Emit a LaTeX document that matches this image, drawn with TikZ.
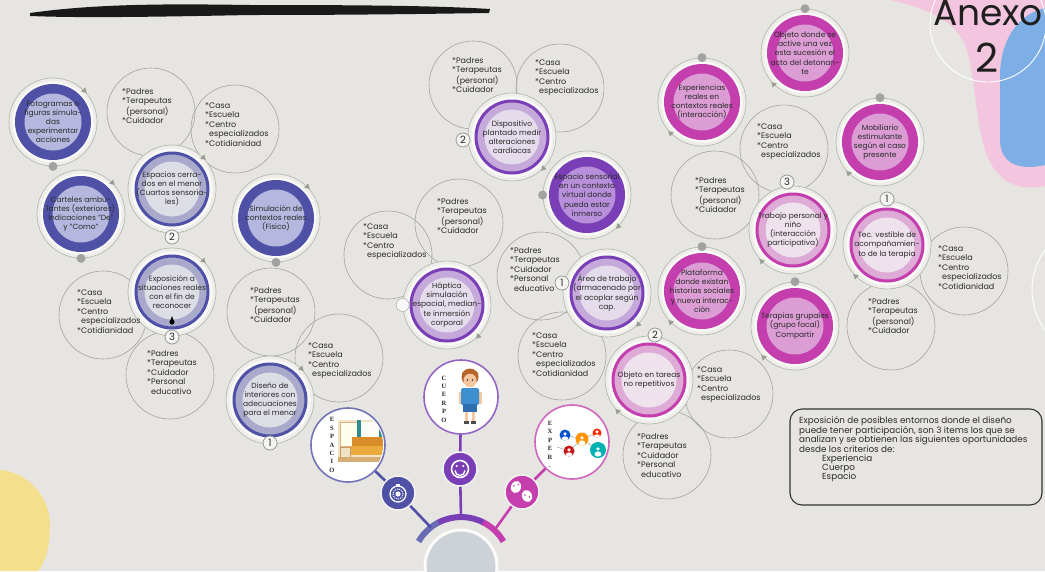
\documentclass[tikz,border=0pt]{standalone}
\usepackage{fontspec}
\setmainfont{Poppins}
\newfontfamily\letterfont{Liberation Serif}
\usetikzlibrary{calc,shapes.geometric}

\definecolor{bgc}{HTML}{E7E5E1}
\definecolor{haloc}{HTML}{EEEDE9}
\definecolor{ringc}{HTML}{B4BAAC}
\definecolor{tcircc}{HTML}{A3A3A1}
\definecolor{txtc}{HTML}{2B2B2B}
\definecolor{dotc}{HTML}{A2A2A2}
\definecolor{blueD}{HTML}{4E51A6}
\definecolor{blueI}{HTML}{B6B7DE}
\definecolor{blueBand}{HTML}{A9AACB}
\definecolor{blueCen}{HTML}{DDDDE6}
\definecolor{purD}{HTML}{7A3EB6}
\definecolor{purI}{HTML}{B78FDA}
\definecolor{purBand}{HTML}{C5A9DB}
\definecolor{purCen}{HTML}{E4DCEA}
\definecolor{pnkD}{HTML}{C43EAE}
\definecolor{pnkI}{HTML}{DB9DD4}
\definecolor{pnkBand}{HTML}{DEABD7}
\definecolor{pnkCen}{HTML}{EEE2EC}
\definecolor{pinkblob}{HTML}{F3C5DE}
\definecolor{blueblob}{HTML}{7DAEE6}
\definecolor{yellowblob}{HTML}{F4E08C}
\definecolor{hubc}{HTML}{CDD2D9}
\definecolor{wallc}{HTML}{F1E4C4}
\definecolor{tealc}{HTML}{2E8C8C}
\definecolor{sofaA}{HTML}{EBAA3C}
\definecolor{sofaB}{HTML}{D98C2A}
\definecolor{floorc}{HTML}{D6AE74}
\definecolor{skinc}{HTML}{F4C7A0}
\definecolor{hairc}{HTML}{B5652A}
\definecolor{shirtc}{HTML}{3D8FCF}
\definecolor{shortc}{HTML}{2F6FAF}

% colored idea node, solid band
\newcommand\ringnodeS[6]{%
  \node[halo] (#1h) at (#2,-#3) {};
  \node[glow] (#1g) at (#2,-#3) {};
  \node[circle,inner sep=0,minimum size=76pt,fill=#4] (#1b) at (#2,-#3) {};
  \node[circle,inner sep=0,minimum size=57pt,fill=#5] (#1c) at (#2,-#3) {};
  \node[nodetext] (#1) at (#2,-#3) {#6};}
% colored idea node, thin ring and pale band
\newcommand\ringnodeL[7]{%
  \node[halo] (#1h) at (#2,-#3) {};
  \node[glow] (#1g) at (#2,-#3) {};
  \node[circle,inner sep=0,minimum size=72pt,fill=#5,draw=#4,line width=3pt] (#1b) at (#2,-#3) {};
  \node[circle,inner sep=0,minimum size=55pt,fill=#6] (#1c) at (#2,-#3) {};
  \node[nodetext] (#1) at (#2,-#3) {#7};}
\newcommand\ringarrow[2]{\node[arrowtri,rotate=#2-90] (#1a) at (#1h.#2) {};}
\newcommand\ringdot[2]{\fill[dotc] (#1h.#2) circle (4.5);}

% lists inside the grey circles
\newcommand\txFamA{*Padres\\*Terapeutas\\\hspace*{4pt}(personal)\\*Cuidador}
\newcommand\txFamB{*Padres\\*Terapeutas\\*Cuidador\\*Personal\\\hspace*{4pt}educativo}
\newcommand\txLugA{*Casa\\*Escuela\\*Centro\\\hspace*{4pt}especializados}
\newcommand\txLugB{*Casa\\*Escuela\\*Centro\\\hspace*{4pt}especializados\\*Cotidianidad}

\begin{document}
\begin{tikzpicture}[x=1pt,y=1pt,
  halo/.style={circle,minimum size=88pt,inner sep=0,draw=ringc,line width=0.7pt,fill=haloc},
  glow/.style={circle,minimum size=81pt,inner sep=0,fill=white!65!haloc},
  nodetext/.style={align=center,font=\fontsize{7.5}{9.2}\selectfont,text=txtc,inner sep=0},
  tcirc/.style={circle,minimum size=88pt,inner sep=0,draw=tcircc,line width=0.6pt},
  ttext/.style={align=left,anchor=north west,font=\fontsize{8}{9.5}\selectfont,text=txtc,inner sep=0},
  badge/.style={circle,draw=gray!80,fill=white!60!bgc,line width=0.8pt,minimum size=14pt,inner sep=0,font=\fontsize{10}{10}\selectfont,text=txtc},
  arrowtri/.style={isosceles triangle,isosceles triangle apex angle=60,fill=ringc!85!black,inner sep=0,minimum size=5pt},
  photo/.style={circle,minimum size=74pt,inner sep=0,fill=white,line width=1.6pt},
  icon/.style={circle,minimum size=34pt,inner sep=0,draw=white!50!bgc,line width=1.5pt},
  conn/.style={line width=2.6pt},
  vletters/.style={align=center,inner sep=0,font=\letterfont\bfseries\fontsize{6.5}{8.4}\selectfont,text=black!85},
  avatar/.style={circle,inner sep=0,fill=#1,path picture={
     \fill[white] ([yshift=1.2pt]path picture bounding box.center) circle (1.8);
     \fill[white] ([yshift=-4pt]path picture bounding box.center) ellipse (3.4 and 2.6);}},
]
\useasboundingbox (0,-571) rectangle (1045,0);
\clip (0,-571) rectangle (1045,0);
\fill[bgc] (0,-571) rectangle (1045,0);

% background shapes
\fill[pinkblob] (890,0) .. controls (925,-8) and (955,-20) .. (965,-45)
  .. controls (975,-70) and (975,-120) .. (985,-150)
  .. controls (995,-180) and (1015,-192) .. (1045,-186) -- (1045,0) -- cycle;
\fill[blueblob] (1045,-8) .. controls (1020,-14) and (1002,-36) .. (1000,-72)
  -- (1000,-140) .. controls (1000,-160) and (1015,-172) .. (1045,-165) -- cycle;
\fill[yellowblob] (0,-470) .. controls (28,-472) and (50,-497) .. (50,-525)
  .. controls (50,-550) and (44,-564) .. (38,-571) -- (0,-571) -- cycle;
\draw[white,line width=0.9pt] (988,-24) circle (58);
\draw[white,line width=0.9pt] (1100,-290) circle (68);

% brush stroke
\fill[black!90] (30,-13) .. controls (100,-3) and (180,-4) .. (250,-5)
  .. controls (380,-5) and (440,-6) .. (490,-9) -- (489,-13)
  .. controls (420,-14) and (350,-15) .. (250,-15)
  .. controls (150,-17) and (80,-18) .. (30,-16) -- cycle;

% title
\node[anchor=base,inner sep=0,font=\fontsize{36}{36}\selectfont,text=black!88] (anexo) at (988,-25) {Anexo};
\node[anchor=base,inner sep=0,font=\fontsize{40}{40}\selectfont,text=black!88] (anexonum) at (987,-72) {2};

% grey circles with participants and places
\node[tcirc] (L1) at (151,-112) {};
\node[tcirc] (L2) at (235,-129) {};
\node[tcirc] (L3) at (103,-315) {};
\node[tcirc] (L4) at (170,-375) {};
\node[tcirc] (L5) at (271,-312) {};
\node[tcirc] (L6) at (339,-358) {};
\node[tcirc] (M1) at (473,-85) {};
\node[tcirc] (M2) at (560,-88) {};
\node[tcirc] (M3) at (459,-223) {};
\node[tcirc] (M4) at (388,-255) {};
\node[tcirc] (M5) at (541,-276) {};
\node[tcirc] (M6) at (562,-356) {};
\node[tcirc] (M7) at (729,-394) {};
\node[tcirc] (M8) at (667,-455) {};
\node[tcirc] (R1) at (784,-149) {};
\node[tcirc] (R2) at (715,-195) {};
\node[tcirc] (R3) at (964,-271) {};
\node[tcirc] (R4) at (891,-326) {};

% space ideas
\ringnodeS{A1}{53}{122}{blueD}{blueI}{Fotogramas o\\figuras simula-\\das\\experimentar\\acciones}
\ringnodeS{A2}{81}{214}{blueD}{blueI}{Carteles ambu-\\lantes (exteriores)\\Indicaciones "De"\\y "Como"}
\ringnodeL{A3}{172}{189}{blueD}{blueBand}{blueCen}{Espacios cerra-\\dos en el menor\\(Cuartos sensoria-\\les)}
\ringnodeS{A4}{276}{218}{blueD}{blueI}{Simulación de\\contextos reales\\(Físico)}
\ringnodeL{A5}{172}{292}{blueD}{blueBand}{blueCen}{Exposición a\\situaciones reales\\con el fin de\\reconocer}
\ringnodeL{A6}{270}{400}{blueD}{blueBand}{blueCen}{Diseño de\\interiores con\\adecuaciones\\para el menor}
% body ideas
\ringnodeL{P1}{512}{137}{purD}{purBand}{purCen}{Dispositivo\\plantado medir\\alteraciones\\cardíacas}
\ringnodeS{P2}{587}{195}{purD}{purI}{Espacio sensorial\\en un contexto\\virtual donde\\pueda estar\\inmerso}
\ringnodeL{P3}{447}{305}{purD}{purBand}{purCen}{Háptica\\simulación\\espacial, median-\\te inmersión\\corporal}
\ringnodeL{P4}{607}{293}{purD}{purBand}{purCen}{Área de trabajo\\(armacenado por\\el acoplar según\\cap.}
% experience ideas
\ringnodeL{K1}{649}{380}{pnkD}{pnkBand}{pnkCen}{Objeto en tareas\\no repetitivos}
\ringnodeS{K2}{702}{291}{pnkD}{pnkI}{Plataforma\\donde existan\\historias sociales\\y nueva interac-\\ción}
\ringnodeS{K3}{795}{326}{pnkD}{pnkI}{Terapias grupales\\(grupo focal)\\Compartir}
\ringnodeS{K4}{805}{53}{pnkD}{pnkI}{Objeto donde se\\active una vez\\esta sucesión el\\acto del detonan-\\te}
\ringnodeS{K5}{702}{102}{pnkD}{pnkI}{Experiencias\\reales en\\contextos reales\\(interacción)}
\ringnodeL{K6}{793}{230}{pnkD}{pnkBand}{pnkCen}{Trabajo personal y\\niño\\(interacción\\participativa)}
\ringnodeS{K7}{880}{142}{pnkD}{pnkI}{Mobiliario\\estimulante\\según el caso\\presente}
\ringnodeL{K8}{887}{245}{pnkD}{pnkBand}{pnkCen}{Tec. vestible de\\acompañamien-\\to de la terapia}

% ring arrows and dots
\ringarrow{A1}{45}\ringarrow{A2}{45}\ringarrow{A3}{45}
\ringarrow{A4}{45}\ringarrow{A5}{45}\ringarrow{A6}{45}
\ringarrow{P1}{-45}\ringarrow{P2}{-45}\ringarrow{P3}{-45}\ringarrow{P4}{-45}
\ringarrow{K1}{-135}\ringarrow{K2}{-135}\ringarrow{K3}{-135}\ringarrow{K4}{-135}
\ringarrow{K5}{-135}\ringarrow{K6}{-135}\ringarrow{K7}{-135}\ringarrow{K8}{-135}
\ringdot{A1}{-90}\ringdot{A2}{-90}\ringdot{A4}{-90}\ringdot{P2}{180}
\ringdot{K2}{90}\ringdot{K3}{90}\ringdot{K4}{90}\ringdot{K5}{90}\ringdot{K7}{90}
\node[circle,draw=ringc,fill=white!75!bgc,minimum size=13pt,inner sep=0,line width=0.7pt] (P3s) at (P3h.180) {};
\fill[black] (172,-322) circle (2.6);
\fill[black] (170.4,-320.5) -- (173.6,-320.5) -- (172,-316) -- cycle;

% order badges
\node[badge] (A3n) at (172,-237) {2};
\node[badge] (A5n) at (172,-337) {3};
\node[badge] (A6n) at (270,-443) {1};
\node[badge] (P1n) at (463,-140) {2};
\node[badge] (P4n) at (562,-283) {1};
\node[badge] (K1n) at (655,-335) {2};
\node[badge] (K6n) at (787,-182) {3};
\node[badge] (K8n) at (887,-199) {1};

% lists
\node[ttext] (L1t) at (122,-88) {\txFamA};
\node[ttext] (L2t) at (205,-102) {\txLugB};
\node[ttext] (L3t) at (77,-289) {\txLugB};
\node[ttext] (L4t) at (147,-350) {\txFamB};
\node[ttext] (L5t) at (250,-287) {\txFamA};
\node[ttext] (L6t) at (308,-342) {\txLugA};
\node[ttext] (M1t) at (452,-57) {\txFamA};
\node[ttext] (M2t) at (535,-59) {\txLugA};
\node[ttext] (M3t) at (437,-198) {\txFamA};
\node[ttext] (M4t) at (363,-223) {\txLugA};
\node[ttext] (M5t) at (510,-247) {\txFamB};
\node[ttext] (M6t) at (532,-332) {\txLugB};
\node[ttext] (M7t) at (697,-366) {\txLugA};
\node[ttext] (M8t) at (637,-433) {\txFamB};
\node[ttext] (R1t) at (757,-123) {\txLugA};
\node[ttext] (R2t) at (695,-177) {\txFamA};
\node[ttext] (R3t) at (938,-245) {\txLugB};
\node[ttext] (R4t) at (868,-298) {\txFamA};

% hub with its three branches
\node[circle,fill=hubc,draw=white!85!bgc,line width=3pt,minimum size=72pt,inner sep=0] (hub) at (461,-566) {};
\draw[line width=6pt,blueD!85!white] ($(hub)+(150:49)$) arc (150:116:49);
\draw[line width=6pt,purD] ($(hub)+(117:49)$) arc (117:62:49);
\draw[line width=6pt,pnkD] ($(hub)+(63:49)$) arc (63:30:49);
\coordinate (arcA) at ($(hub)+(128:49)$);
\coordinate (arcB) at ($(hub)+(90:49)$);
\coordinate (arcC) at ($(hub)+(47:49)$);

\node[icon,fill=blueD] (icoA) at (398,-493) {};
\node[icon,fill=purD] (icoB) at (460,-469) {};
\node[icon,fill=pnkD] (icoC) at (522,-492) {};
\node[photo,draw=blueD!80] (espacio) at (348,-445) {};
\node[photo,draw=purD!80] (cuerpo) at (461,-397) {};
\node[photo,draw=pnkD!80] (exper) at (572,-442) {};

\draw[conn,blueD] (arcA) -- (icoA);
\draw[conn,blueD] (icoA) -- (espacio);
\draw[conn,purD] (arcB) -- (icoB);
\draw[conn,purD] (icoB) -- (cuerpo);
\draw[conn,pnkD] (arcC) -- (icoC);
\draw[conn,pnkD] (icoC) -- (exper);

% stopwatch glyph
\draw[white,line width=1.3pt] (398,-494) circle (8);
\draw[white,line width=1pt,dash pattern=on 1pt off 1pt] (398,-494) circle (5.2);
\fill[white] (398,-494) circle (2.6);
\fill[white] (396.3,-483.5) rectangle (399.7,-486.2);
% smiling face glyph
\draw[white,line width=1.6pt] (460,-469) circle (8.5);
\draw[white,line width=1.4pt] (455,-470.5) arc (180:360:5);
\fill[white] (456.8,-466) circle (1.1);
\fill[white] (463.2,-466) circle (1.1);
% masks glyph
\fill[white,rotate around={-20:(516,-487)}] (516,-487) ellipse (5 and 6.2);
\fill[white,rotate around={25:(527,-496)}] (527,-496) ellipse (5 and 6.2);
\fill[pnkD] (514,-486) circle (0.9);
\fill[pnkD] (518.5,-484.5) circle (0.9);
\fill[pnkD] (525,-495) circle (0.9);
\fill[pnkD] (529.5,-497) circle (0.9);

% interior scene
\begin{scope}
  \clip (348,-445) circle (35);
  \fill[wallc] (338,-420) rectangle (385,-462);
  \fill[white!92!yellow] (340,-422) rectangle (357,-446);
  \draw[brown!60,line width=0.6pt] (340,-422) rectangle (357,-446);
  \fill[white!88!wallc] (361,-422) rectangle (379,-440);
  \fill[tealc] (357,-420) rectangle (361,-449);
  \fill[tealc] (379,-420) rectangle (383,-449);
  \fill[sofaB] (352,-437) rectangle (385,-447);
  \fill[sofaA] (350,-446) rectangle (385,-455);
  \draw[brown!80,line width=0.8pt] (340,-447) rectangle (350,-458);
  \fill[floorc] (338,-457) rectangle (385,-462);
\end{scope}
\node[vletters] (espL) at (332,-445) {E\\S\\P\\A\\C\\I\\O};

% child figure
\fill[hairc] (470,-377) circle (8.5);
\fill[skinc] (470,-380.5) ellipse (6.5 and 6.8);
\fill[hairc] (462,-376) .. controls (466,-371) and (474,-371) .. (478,-376) -- (478,-373) .. controls (474,-368) and (466,-368) .. (462,-373) -- cycle;
\fill[black!80] (467.5,-380) circle (0.8);
\fill[black!80] (472.5,-380) circle (0.8);
\fill[skinc] (458.5,-392) rectangle (461.5,-404);
\fill[skinc] (478.5,-392) rectangle (481.5,-404);
\fill[shirtc,rounded corners=1.5pt] (461,-388) rectangle (479,-405);
\fill[shortc] (463,-404) rectangle (477,-412);
\fill[skinc] (465,-412) rectangle (468,-421);
\fill[skinc] (472,-412) rectangle (475,-421);
\fill[black!70] (464,-421) rectangle (469,-423.5);
\fill[black!70] (471,-421) rectangle (476,-423.5);
\node[vletters] (cueL) at (444,-399) {C\\U\\E\\R\\P\\O};

% network of people
\node[avatar=blue!60!cyan!80!black,minimum size=11pt] (pa) at (565,-435) {};
\node[avatar=orange!85!yellow,minimum size=13pt] (pb) at (582,-439) {};
\node[avatar=red!70!orange,minimum size=9pt] (pc) at (597,-433) {};
\node[avatar=red!75!black!90,minimum size=11pt] (pd) at (569,-451) {};
\node[avatar=teal!60!cyan,minimum size=16pt] (pe) at (598,-450) {};
\coordinate (pf) at (557,-447);
\draw[gray!70,line width=0.6pt] (pa) -- (pb);
\draw[gray!70,line width=0.6pt] (pb) -- (pc);
\draw[gray!70,line width=0.6pt] (pb) -- (pe);
\draw[gray!70,line width=0.6pt] (pb) -- (pd);
\draw[gray!70,line width=0.6pt] (pf) -- (pd);
\node[vletters] (expL) at (550,-444.5) {E\\X\\P\\E\\R\\.};

% summary note
\node[draw=black!80,line width=1.1pt,rounded corners=12pt,minimum width=252pt,minimum height=96pt,inner sep=0] (note) at (916,-457) {};
\node[anchor=north west,align=left,inner sep=0,font=\fontsize{8.8}{9}\selectfont,text=txtc] (notetext) at (799,-416)
  {Exposición de posibles entornos donde el diseño\\
   puede tener participación, son 3 items los que se\\
   analizan y se obtienen las siguientes oportunidades\\
   desde los criterios de:\\
   \hspace*{23pt}Experiencia\\
   \hspace*{23pt}Cuerpo\\
   \hspace*{23pt}Espacio};
\end{tikzpicture}
\end{document}
